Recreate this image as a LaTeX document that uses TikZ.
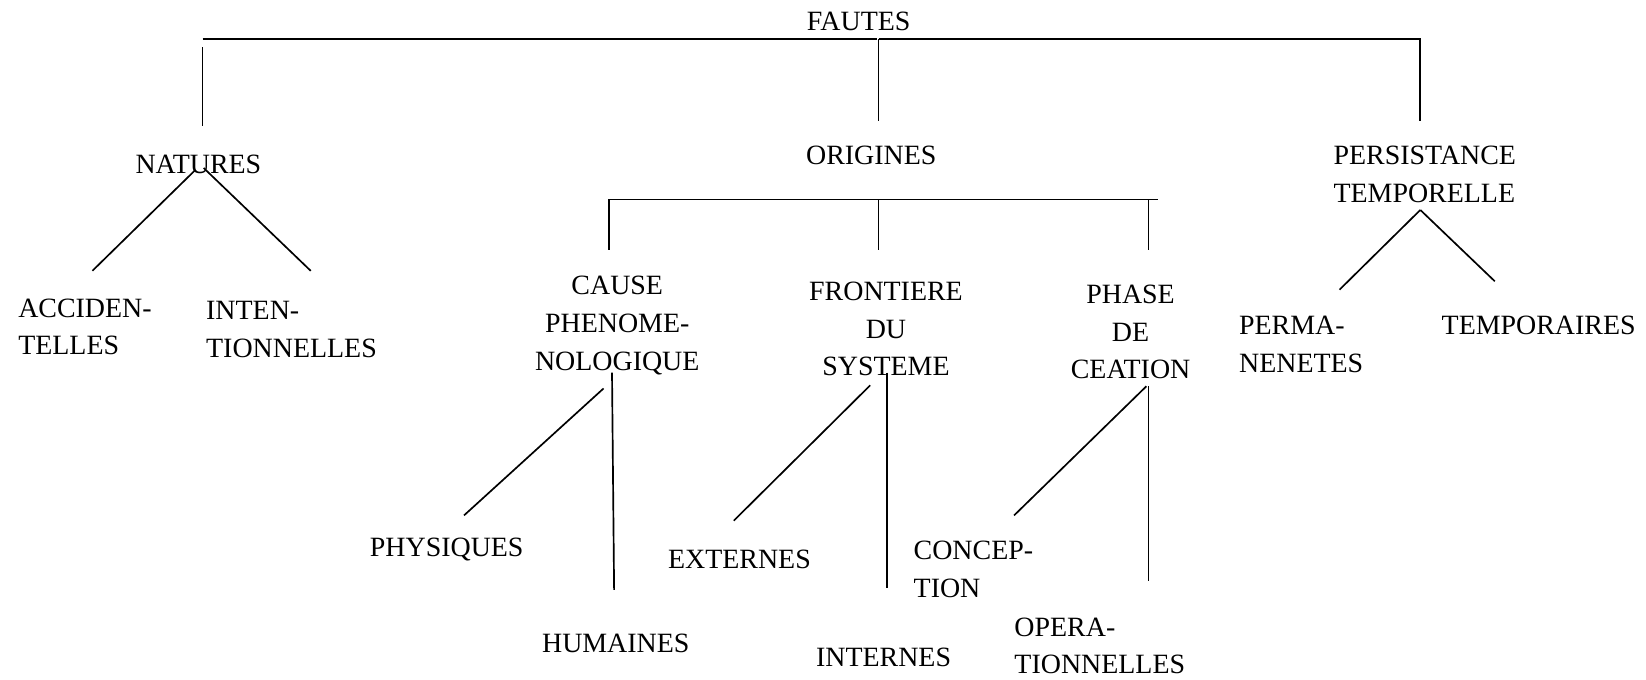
\documentclass[tikz,border=0pt]{standalone}
\usepackage{fontspec}
\setmainfont{Liberation Serif}
\begin{document}
\begin{tikzpicture}[x=0.5pt,y=-0.5pt,
  lbl/.style={inner sep=0pt,font=\fontsize{13.3}{18}\selectfont},
  lblc/.style={lbl,align=center,anchor=north},
  lbll/.style={lbl,align=left,anchor=north west},
  conn/.style={line width=0.8pt,line cap=butt}]
\useasboundingbox (0,0) rectangle (1568,647);
% nodes
\node[lblc] (fautes) at (818,11) {FAUTES};
\node[lblc] (natures) at (189,147) {NATURES};
\node[lbll] (acc) at (17,284) {ACCIDEN-\\TELLES};
\node[lbll] (int) at (196,287) {INTEN-\\TIONNELLES};
\node[lblc] (origines) at (830,139) {ORIGINES};
\node[lblc] (cause) at (588,263) {CAUSE\\PHENOME-\\NOLOGIQUE};
\node[lblc] (front) at (844,268) {FRONTIERE\\DU\\SYSTEME};
\node[lblc] (phase) at (1077,271) {PHASE\\DE\\CEATION};
\node[lbll] (persist) at (1270,139) {PERSISTANCE\\TEMPORELLE};
\node[lbll] (perma) at (1180,301) {PERMA-\\NENETES};
\node[lbll] (tempo) at (1373,301) {TEMPORAIRES};
\node[lbll] (phys) at (352,512) {PHYSIQUES};
\node[lbll] (hum) at (516,604) {HUMAINES};
\node[lbll] (ext) at (636,524) {EXTERNES};
\node[lbll] (inter) at (777,617) {INTERNES};
\node[lbll] (concep) at (870,515) {CONCEP-\\TION};
\node[lbll] (opera) at (966,588) {OPERA-\\TIONNELLES};
% junction coordinates
\coordinate (tl) at (193,37);
\coordinate (tm1) at (835,37);
\coordinate (tm) at (837,37);
\coordinate (tr) at (1353,37);
\coordinate (natTop) at (193,45);
\coordinate (natEnd) at (193,120);
\coordinate (oriEnd) at (837,115);
\coordinate (perEnd) at (1353,115);
\coordinate (natA) at (186,162);
\coordinate (natB) at (194,160);
\coordinate (accEnd) at (88,258);
\coordinate (intEnd) at (296,258);
\coordinate (ol) at (580,190);
\coordinate (om) at (837,190);
\coordinate (or) at (1103,190);
\coordinate (orv) at (1094,190);
\coordinate (causeEnd) at (580,238);
\coordinate (frontEnd) at (837,238);
\coordinate (phaseEnd) at (1094,238);
\coordinate (perA) at (1353,200);
\coordinate (permaEnd) at (1276,276);
\coordinate (tempoEnd) at (1424,268);
\coordinate (cA) at (575,370);
\coordinate (cB) at (583,355);
\coordinate (physEnd) at (442,491);
\coordinate (humEnd) at (585,562);
\coordinate (fA) at (829,367);
\coordinate (fB) at (845,355);
\coordinate (extEnd) at (699,496);
\coordinate (intEnd2) at (845,560);
\coordinate (pA) at (1092,368);
\coordinate (pB) at (1094,368);
\coordinate (conEnd) at (966,491);
\coordinate (opEnd) at (1094,553);
% connectors
\draw[conn] (tl) -- (tm1);
\draw[conn] (tm) -- (tr) -- (perEnd);
\draw[conn] (tm) -- (oriEnd);
\draw[conn] (natTop) -- (natEnd);
\draw[conn] (natA) -- (accEnd);
\draw[conn] (natB) -- (intEnd);
\draw[conn] (ol) -- (or);
\draw[conn] (ol) -- (causeEnd);
\draw[conn] (om) -- (frontEnd);
\draw[conn] (orv) -- (phaseEnd);
\draw[conn] (perA) -- (permaEnd);
\draw[conn] (perA) -- (tempoEnd);
\draw[conn] (cA) -- (physEnd);
\draw[conn] (cB) -- (humEnd);
\draw[conn] (fA) -- (extEnd);
\draw[conn] (fB) -- (intEnd2);
\draw[conn] (pA) -- (conEnd);
\draw[conn] (pB) -- (opEnd);
\end{tikzpicture}
\end{document}
